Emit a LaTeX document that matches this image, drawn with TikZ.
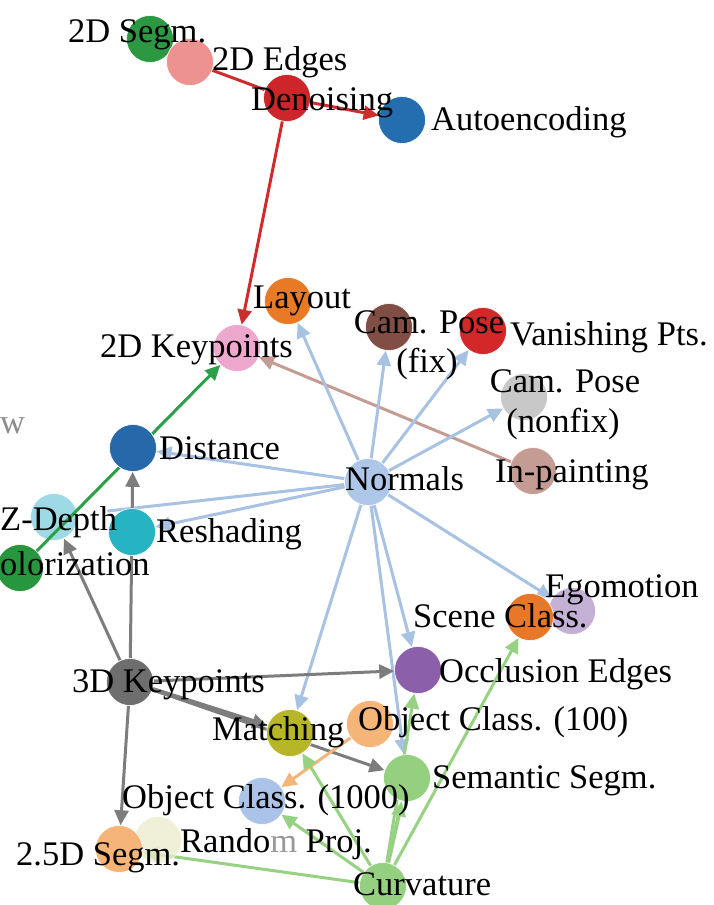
\documentclass[tikz,border=0pt]{standalone}
\usepackage{fontspec}
\setmainfont{Liberation Serif}
\usetikzlibrary{arrows.meta}
\pgfdeclarelayer{bg}
\pgfsetlayers{bg,main}
\definecolor{cSegTwo}{RGB}{44,152,66}
\definecolor{cEdgesTwo}{RGB}{238,145,145}
\definecolor{cDenoise}{RGB}{205,38,42}
\definecolor{cAuto}{RGB}{36,110,176}
\definecolor{cLayout}{RGB}{232,122,38}
\definecolor{cKpTwo}{RGB}{238,168,205}
\definecolor{cCamFix}{RGB}{128,78,68}
\definecolor{cVanish}{RGB}{210,40,42}
\definecolor{cCamNon}{RGB}{200,200,200}
\definecolor{cInpaint}{RGB}{196,156,148}
\definecolor{cNormals}{RGB}{174,199,232}
\definecolor{cDistance}{RGB}{38,104,170}
\definecolor{cZdepth}{RGB}{158,218,229}
\definecolor{cReshade}{RGB}{38,180,195}
\definecolor{cColor}{RGB}{40,150,62}
\definecolor{cKpThree}{RGB}{110,110,110}
\definecolor{cMatch}{RGB}{182,182,40}
\definecolor{cObjH}{RGB}{245,180,120}
\definecolor{cOccl}{RGB}{140,95,170}
\definecolor{cScene}{RGB}{232,120,40}
\definecolor{cEgo}{RGB}{197,176,213}
\definecolor{cSemseg}{RGB}{148,208,128}
\definecolor{cObjK}{RGB}{170,195,230}
\definecolor{cSegTF}{RGB}{245,180,120}
\definecolor{cRand}{RGB}{236,236,205}
\definecolor{cCurv}{RGB}{148,208,128}
\definecolor{cRedE}{RGB}{205,45,45}
\definecolor{cGreenE}{RGB}{44,160,72}
\definecolor{cBlueE}{RGB}{168,194,228}
\definecolor{cGreyE}{RGB}{125,125,125}
\definecolor{cGreenL}{RGB}{150,210,130}
\newcommand{\lblfont}{\fontsize{34.5}{40}\selectfont}
\tikzset{
  nd/.style={circle, inner sep=0pt, minimum size=47pt, draw=white, line width=0.6pt},
  lbl/.style={font=\lblfont, inner sep=0pt, text=black},
  ar/.style={line width=3pt, -{Triangle[length=15pt,width=14pt]}},
  plain/.style={line width=3pt}
}
\begin{document}
\begin{tikzpicture}[x=1pt,y=-1pt]
\begin{pgfonlayer}{bg}
\fill[white] (0,0) rectangle (714,905);
\end{pgfonlayer}
\useasboundingbox (0,0) rectangle (714,905);
\clip (0,0) rectangle (714,905);

% nodes that lie under the green connector
\node[nd, fill=cZdepth] (zdepth) at (54,517) {};
\node[nd, fill=cKpTwo] (kp2d) at (237,348) {};
\node[nd, fill=cColor] (color) at (20,568) {};
\draw[ar, cGreenE] (color) -- (kp2d);

% remaining nodes
\node[nd, fill=cSegTwo] (seg2d) at (150,39) {};
\node[nd, fill=cEdgesTwo] (edges2d) at (190,62) {};
\node[nd, fill=cDenoise] (denoise) at (287,98) {};
\node[nd, fill=cAuto] (autoenc) at (402,120) {};
\node[nd, fill=cLayout] (layout) at (288,301) {};
\node[nd, fill=cCamFix] (camfix) at (389,327) {};
\node[nd, fill=cVanish] (vanish) at (483,331) {};
\node[nd, fill=cCamNon] (camnon) at (524,397) {};
\node[nd, fill=cInpaint] (inpaint) at (533,471) {};
\node[nd, fill=cNormals] (normals) at (368,482) {};
\node[nd, fill=cDistance] (distance) at (133,448) {};
\node[nd, fill=cReshade] (reshade) at (132,532) {};
\node[nd, fill=cKpThree] (kp3d) at (130,682) {};
\node[nd, fill=cMatch] (matching) at (290,733) {};
\node[nd, fill=cObjH] (obj100) at (370,724) {};
\node[nd, fill=cOccl] (occl) at (418,670) {};
\node[nd, fill=cEgo] (ego) at (572,611) {};
\node[nd, fill=cScene] (scene) at (530,617) {};
\node[nd, fill=cSemseg] (semseg) at (407,778) {};
\node[nd, fill=cObjK] (obj1000) at (262,801) {};
\node[nd, fill=cRand, fill opacity=0.75, draw opacity=0.75] (randproj) at (158,840) {};
\node[nd, fill=cSegTF] (seg25) at (119,849) {};
\node[nd, fill=cCurv] (curv) at (383,886) {};

% connectors
\begin{pgfonlayer}{bg}
\draw[plain, cRedE] (denoise) -- (edges2d);
\draw[ar, cRedE] (denoise) -- (autoenc);
\draw[ar, cRedE] (denoise) -- (kp2d);
\draw[ar, cInpaint] (inpaint) -- (kp2d);
\draw[ar, cBlueE] (normals) -- (layout);
\draw[ar, cBlueE] (normals) -- (camfix);
\draw[ar, cBlueE] (normals) -- (vanish);
\draw[ar, cBlueE] (normals) -- (camnon);
\draw[ar, cBlueE] (normals) -- (distance);
\draw[ar, cBlueE] (normals) -- (reshade);
\draw[plain, cBlueE, shorten >=30pt] (normals) -- (zdepth);
\draw[ar, cBlueE] (normals) -- (matching);
\draw[ar, cBlueE] (normals) -- (occl);
\draw[ar, cBlueE] (normals) -- (semseg);
\draw[ar, cBlueE] (normals) -- (ego);
\draw[ar, cGreyE] (kp3d) -- (distance);
\draw[ar, cGreyE] (kp3d) -- (zdepth);
\draw[ar, cGreyE] (kp3d) -- (occl);
\draw[ar, cGreyE, line width=4.5pt] (kp3d) -- (matching);
\draw[ar, cGreyE] (kp3d) -- (semseg);
\draw[ar, cGreyE] (kp3d) -- (seg25);
\draw[ar, cObjH] (obj100) -- (obj1000);
\draw[ar, cGreenL] (curv) -- (matching);
\draw[ar, cGreenL] (curv) -- (obj1000);
\draw[ar, cGreenL] (curv) -- (seg25);
\draw[ar, cGreenL, line width=4pt] (curv) -- (semseg);
\draw[ar, cGreenL] (curv) -- (occl);
\draw[ar, cGreenL] (curv) -- (scene);
\end{pgfonlayer}

% labels
\node[lbl, anchor=base west] (l-seg2d) at (68,42) {2D Segm.};
\node[lbl, anchor=base west] (l-edges2d) at (212,70) {2D Edges};
\node[lbl, anchor=base west] (l-denoise) at (251,110) {Denoising};
\node[lbl, anchor=base west] (l-autoenc) at (431,130) {Autoencoding};
\node[lbl, anchor=base west] (l-layout) at (253,308) {Layout};
\node[lbl, anchor=base west] (l-kp2d) at (100,357) {2D Keypoints};
\node[lbl, anchor=base] (l-camfix) at (429,333) {Cam. Pose};
\node[lbl, anchor=base] (l-camfixb) at (427,372) {(fix)};
\node[lbl, anchor=base west] (l-vanish) at (510,345) {Vanishing Pts.};
\node[lbl, anchor=base] (l-camnon) at (565,392) {Cam. Pose};
\node[lbl, anchor=base] (l-camnonb) at (563,432) {(nonfix)};
\node[lbl, anchor=base west] (l-inpaint) at (495,482) {In-painting};
\node[lbl, anchor=base west] (l-normals) at (345,490) {Normals};
\node[lbl, anchor=base west, text=black!45] (l-jig) at (0,433) {w};
\node[lbl, anchor=base west] (l-distance) at (159,459) {Distance};
\node[lbl, anchor=base west] (l-zdepth) at (0,530) {Z-Depth};
\node[lbl, anchor=base west] (l-reshade) at (156,542) {Reshading};
\node[lbl, anchor=base west] (l-color) at (0,575) {olorization};
\node[lbl, anchor=base west] (l-kp3d) at (72,692) {3D Keypoints};
\node[lbl, anchor=base west] (l-matching) at (212,740) {Matching};
\node[lbl, anchor=base west] (l-obj100) at (358,730) {Object Class. (100)};
\node[lbl, anchor=base west] (l-occl) at (439,682) {Occlusion Edges};
\node[lbl, anchor=base west] (l-ego) at (545,597) {Egomotion};
\node[lbl, anchor=base west] (l-scene) at (413,627) {Scene Class.};
\node[lbl, anchor=base west] (l-semseg) at (432,788) {Semantic Segm.};
\node[lbl, anchor=base west] (l-obj1000) at (122,808) {Object Class. (1000)};
\node[lbl, anchor=base west] (l-seg25) at (16,865) {2.5D Segm.};
\node[lbl, anchor=base west] (l-rand) at (180,852) {Rando{\color{black!40}m} Proj.};
\node[lbl, anchor=base west] (l-curv) at (353,895) {Curvature};
\end{tikzpicture}
\end{document}
